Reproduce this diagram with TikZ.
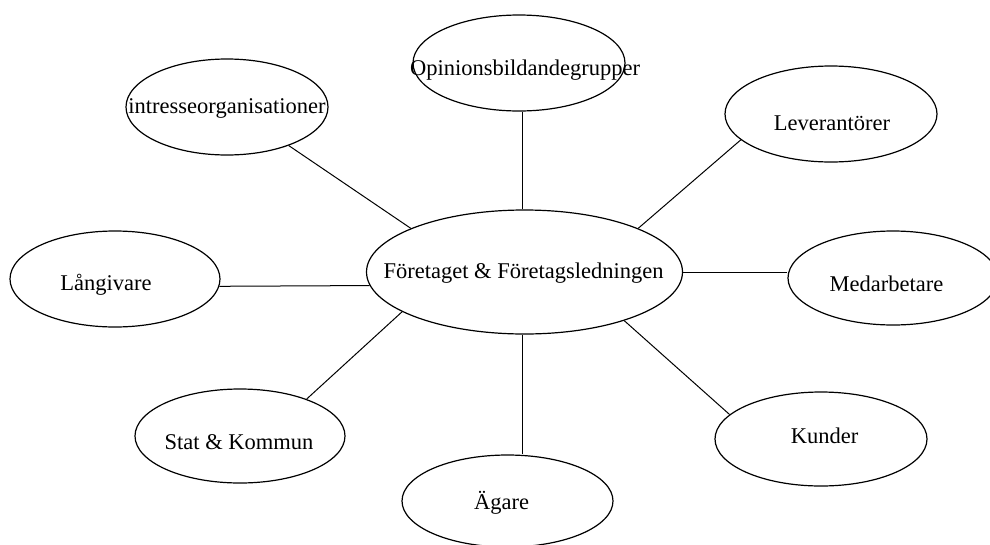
\documentclass[tikz,border=0pt]{standalone}
\usepackage{fontspec}
\setmainfont{Liberation Serif}
\usetikzlibrary{shapes.geometric}
\begin{document}
\begin{tikzpicture}[x=1pt,y=-1pt,
  oval/.style={ellipse, draw, line width=1.2pt, inner sep=0pt},
  txt/.style={anchor=base, inner sep=0pt, font=\fontsize{22.5}{27}\selectfont},
  link/.style={draw, line width=1pt}]
\useasboundingbox (0,0) rectangle (990,544);
\node[oval, minimum width=316pt, minimum height=124pt,
  label={[txt, xshift=-1pt, yshift=-1pt]center:Företaget \& Företagsledningen}] (c) at (524.5,272) {};
\node[oval, minimum width=212pt, minimum height=96pt,
  label={[txt, xshift=6pt, yshift=-7pt]center:Opinionsbildandegrupper}] (o) at (519,63) {};
\node[oval, minimum width=202pt, minimum height=96pt,
  label={[txt, xshift=0pt, yshift=-1pt]center:intresseorganisationer}] (i) at (227,107) {};
\node[oval, minimum width=212pt, minimum height=96pt,
  label={[txt, xshift=1pt, yshift=-9pt]center:Leverantörer}] (lv) at (831,114) {};
\node[oval, minimum width=210pt, minimum height=96pt,
  label={[txt, xshift=-9pt, yshift=-6pt]center:Långivare}] (l) at (115,279) {};
\node[oval, minimum width=210pt, minimum height=94pt,
  label={[txt, xshift=-6.5pt, yshift=-6pt]center:Medarbetare}] (m) at (893,278) {};
\node[oval, minimum width=210pt, minimum height=94pt,
  label={[txt, xshift=-1pt, yshift=-6pt]center:Stat \& Kommun}] (s) at (240,436) {};
\node[oval, minimum width=211pt, minimum height=92pt,
  label={[txt, xshift=-6pt, yshift=-2pt]center:Ägare}] (a) at (507.5,501) {};
\node[oval, minimum width=212pt, minimum height=94pt,
  label={[txt, xshift=3.5pt, yshift=3pt]center:Kunder}] (k) at (821,439) {};
\path[link] (c.92) -- (c.92 |- o.south);
\path[link] (i.-32) -- (c.159);
\path[link] (lv.196) -- (c.21);
\path[link] (c.east) -- (c.east -| m.west);
\path[link] (l.-4.4) -- (c.185.6);
\path[link] (s.29) -- (c.198);
\path[link] (c.-92) -- (c.-92 |- a.north);
\path[link] (k.165.5) -- (c.-26);
\end{tikzpicture}
\end{document}
